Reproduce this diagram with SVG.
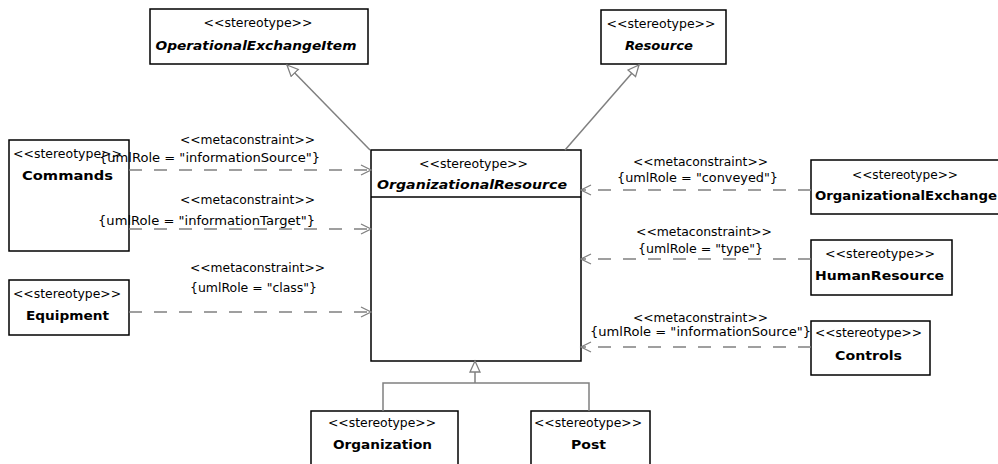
<svg xmlns="http://www.w3.org/2000/svg" width="998" height="464" viewBox="0 0 998 464">
<style>
.box{fill:#fff;stroke:#000;stroke-width:1.5}
.st{font-family:"DejaVu Sans","Liberation Sans",sans-serif;font-size:12px;fill:#000;text-anchor:middle}
.nm{font-family:"DejaVu Sans","Liberation Sans",sans-serif;font-size:13px;font-weight:bold;fill:#000;text-anchor:middle}
.ab{font-style:italic}
.lb{font-family:"DejaVu Sans","Liberation Sans",sans-serif;font-size:12px;fill:#000;text-anchor:start}
.dep{fill:none;stroke:#808080;stroke-width:1.3;stroke-dasharray:13,12;marker-end:url(#open)}
.gen{fill:none;stroke:#808080;stroke-width:1.5}
</style>
<defs>
<marker id="open" markerUnits="userSpaceOnUse" markerWidth="14" markerHeight="14" refX="11" refY="6" orient="auto">
<path d="M1,1 L11,6 L1,11" fill="none" stroke="#808080" stroke-width="1.3"/>
</marker>
<marker id="tri" markerUnits="userSpaceOnUse" markerWidth="16" markerHeight="16" refX="12" refY="6" orient="auto">
<path d="M1,1 L12,6 L1,11 Z" fill="#fff" stroke="#808080" stroke-width="1.3"/>
</marker>
</defs>
<rect width="998" height="464" fill="#fff"/>
<g id="OperationalExchangeItem">
<rect class="box" x="150" y="9" width="218" height="55"/>
<text class="st" x="258" y="27" textLength="109" lengthAdjust="spacingAndGlyphs">&lt;&lt;stereotype&gt;&gt;</text>
<text class="nm ab" x="256" y="50" textLength="201" lengthAdjust="spacingAndGlyphs">OperationalExchangeItem</text>
</g>
<g id="Resource">
<rect class="box" x="601" y="10" width="125" height="54"/>
<text class="st" x="661" y="28" textLength="109" lengthAdjust="spacingAndGlyphs">&lt;&lt;stereotype&gt;&gt;</text>
<text class="nm ab" x="659" y="50" textLength="68" lengthAdjust="spacingAndGlyphs">Resource</text>
</g>
<g id="Commands">
<rect class="box" x="9" y="140" width="120" height="111"/>
<text class="st" x="67.5" y="158" textLength="109" lengthAdjust="spacingAndGlyphs">&lt;&lt;stereotype&gt;&gt;</text>
<text class="nm" x="67.5" y="180" textLength="91" lengthAdjust="spacingAndGlyphs">Commands</text>
</g>
<g id="Equipment">
<rect class="box" x="9" y="280" width="120" height="55"/>
<text class="st" x="67" y="298" textLength="108" lengthAdjust="spacingAndGlyphs">&lt;&lt;stereotype&gt;&gt;</text>
<text class="nm" x="67.5" y="320" textLength="83" lengthAdjust="spacingAndGlyphs">Equipment</text>
</g>
<g id="OrganizationalResource">
<rect class="box" x="371" y="150" width="210" height="211"/>
<line x1="371" y1="197" x2="581" y2="197" stroke="#000" stroke-width="1.5"/>
<text class="st" x="473.5" y="168" textLength="109" lengthAdjust="spacingAndGlyphs">&lt;&lt;stereotype&gt;&gt;</text>
<text class="nm ab" x="472" y="189" textLength="190" lengthAdjust="spacingAndGlyphs">OrganizationalResource</text>
</g>
<g id="OrganizationalExchange">
<rect class="box" x="811" y="160" width="189" height="54"/>
<text class="st" x="905" y="179" textLength="106" lengthAdjust="spacingAndGlyphs">&lt;&lt;stereotype&gt;&gt;</text>
<text class="nm" x="906" y="200" textLength="182" lengthAdjust="spacingAndGlyphs">OrganizationalExchange</text>
</g>
<g id="HumanResource">
<rect class="box" x="811" y="240" width="141" height="55"/>
<text class="st" x="880" y="258" textLength="110" lengthAdjust="spacingAndGlyphs">&lt;&lt;stereotype&gt;&gt;</text>
<text class="nm" x="879.5" y="280" textLength="129" lengthAdjust="spacingAndGlyphs">HumanResource</text>
</g>
<g id="Controls">
<rect class="box" x="811" y="321" width="119" height="54"/>
<text class="st" x="868.5" y="337" textLength="107" lengthAdjust="spacingAndGlyphs">&lt;&lt;stereotype&gt;&gt;</text>
<text class="nm" x="868.5" y="360" textLength="67" lengthAdjust="spacingAndGlyphs">Controls</text>
</g>
<g id="Organization">
<rect class="box" x="311" y="411" width="147" height="60"/>
<text class="st" x="382" y="427" textLength="108" lengthAdjust="spacingAndGlyphs">&lt;&lt;stereotype&gt;&gt;</text>
<text class="nm" x="382.5" y="449" textLength="99" lengthAdjust="spacingAndGlyphs">Organization</text>
</g>
<g id="Post">
<rect class="box" x="531" y="411" width="119" height="60"/>
<text class="st" x="588" y="427" textLength="108" lengthAdjust="spacingAndGlyphs">&lt;&lt;stereotype&gt;&gt;</text>
<text class="nm" x="588.5" y="449" textLength="35" lengthAdjust="spacingAndGlyphs">Post</text>
</g>
<g id="connectors">
<line class="dep" x1="129" y1="170" x2="371" y2="170"/>
<line class="dep" x1="129" y1="229" x2="371" y2="229"/>
<line class="dep" x1="129" y1="312" x2="371" y2="312"/>
<line class="dep" x1="811" y1="190" x2="581" y2="190"/>
<line class="dep" x1="811" y1="259" x2="581" y2="259"/>
<line class="dep" x1="811" y1="347" x2="581" y2="347"/>
<line class="gen" x1="370" y1="150" x2="287" y2="65" marker-end="url(#tri)"/>
<line class="gen" x1="565" y1="150" x2="639" y2="65" marker-end="url(#tri)"/>
<polyline class="gen" points="383,411 383,383 589,383 589,411"/>
<line class="gen" x1="475" y1="383" x2="475" y2="361" marker-end="url(#tri)"/>
<text class="lb" x="180" y="144" textLength="135" lengthAdjust="spacingAndGlyphs">&lt;&lt;metaconstraint&gt;&gt;</text>
<text class="lb" x="99" y="162" textLength="221" lengthAdjust="spacingAndGlyphs">{umlRole = "informationSource"}</text>
<text class="lb" x="180" y="204" textLength="135" lengthAdjust="spacingAndGlyphs">&lt;&lt;metaconstraint&gt;&gt;</text>
<text class="lb" x="98" y="225" textLength="217" lengthAdjust="spacingAndGlyphs">{umlRole = "informationTarget"}</text>
<text class="lb" x="190" y="272" textLength="135" lengthAdjust="spacingAndGlyphs">&lt;&lt;metaconstraint&gt;&gt;</text>
<text class="lb" x="190" y="292" textLength="127" lengthAdjust="spacingAndGlyphs">{umlRole = "class"}</text>
<text class="lb" x="633" y="166" textLength="135" lengthAdjust="spacingAndGlyphs">&lt;&lt;metaconstraint&gt;&gt;</text>
<text class="lb" x="617" y="182" textLength="161" lengthAdjust="spacingAndGlyphs">{umlRole = "conveyed"}</text>
<text class="lb" x="636" y="236" textLength="136" lengthAdjust="spacingAndGlyphs">&lt;&lt;metaconstraint&gt;&gt;</text>
<text class="lb" x="638" y="253" textLength="125" lengthAdjust="spacingAndGlyphs">{umlRole = "type"}</text>
<text class="lb" x="633" y="322" textLength="135" lengthAdjust="spacingAndGlyphs">&lt;&lt;metaconstraint&gt;&gt;</text>
<text class="lb" x="590" y="336" textLength="221" lengthAdjust="spacingAndGlyphs">{umlRole = "informationSource"}</text>
</g>
</svg>
